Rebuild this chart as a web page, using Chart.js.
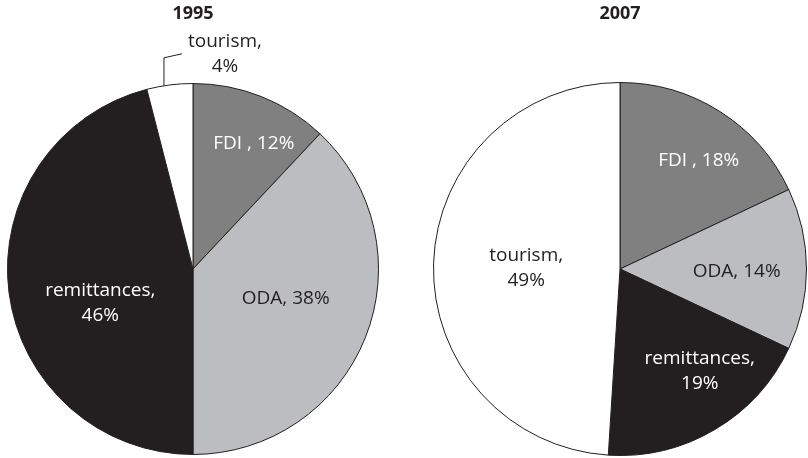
<!DOCTYPE html>
<html>
<head>
<meta charset="utf-8">
<script src="https://cdn.jsdelivr.net/npm/chart.js@4.4.0/dist/chart.umd.min.js"></script>
<style>
    html, body { margin: 0; padding: 0; background: #fff; }
    body { width: 808px; height: 458px; position: relative; overflow: hidden; }
    #pie-1995 { position: absolute; left: 0; top: 0; }
    #pie-2007 { position: absolute; left: 426px; top: 0; }
</style>
</head>
<body>
<canvas id="pie-1995" width="386" height="458"></canvas>
<canvas id="pie-2007" width="382" height="458"></canvas>
<script>
// data
const categories = ['FDI', 'ODA', 'remittances', 'tourism'];
const labelText = ['FDI , ', 'ODA, ', 'remittances,', 'tourism,'];
const values1995 = [12, 38, 46, 4];
const values2007 = [18, 14, 19, 49];
const years = ['1995', '2007'];

const sliceColors = ['#808080', '#bcbdc0', '#231f20', '#ffffff'];
const textColors = ['#ffffff', '#231f20', '#ffffff', '#231f20'];
const ink = '#231f20';
const fontFamily = '"Open Sans", "Noto Sans", sans-serif';

// where each label sits: fraction of radius, angle tweak in degrees, one or two lines
const place1995 = [
    { f: 0.753, da: 4.2, two: false },
    { f: 0.525, da: -3.7, two: false },
    { f: 0.532, da: -12.9, two: true },
    { leader: { da: -1.8, up: 28, dx: 18, dy: -4 }, tx: 43, ty: 0, two: true }
];
const place2007 = [
    { f: 0.72, da: 3.5, two: false },
    { f: 0.626, da: 1.5, two: false },
    { f: 0.693, da: -7.5, two: true },
    { f: 0.503, da: -1.2, two: true }
];

// draws the slice labels (and the leader line for tiny slices)
const sliceLabels = {
    id: 'sliceLabels',
    afterDatasetsDraw(chart, args, opts) {
        const ctx = chart.ctx;
        const meta = chart.getDatasetMeta(0);
        const vals = chart.data.datasets[0].data;
        ctx.save();
        ctx.font = '19px ' + fontFamily;
        ctx.textAlign = 'center';
        ctx.textBaseline = 'middle';
        meta.data.forEach((arc, i) => {
            const p = arc.getProps(['x', 'y', 'startAngle', 'endAngle', 'outerRadius'], true);
            const cfg = opts.places[i];
            let mid = (p.startAngle + p.endAngle) / 2;
            let tx, ty;
            if (cfg.leader) {
                const a = mid + cfg.leader.da * Math.PI / 180;
                const sx = p.x + Math.cos(a) * p.outerRadius;
                const sy = p.y + Math.sin(a) * p.outerRadius;
                const ex = sx + cfg.leader.dx;
                const ey = sy - cfg.leader.up + cfg.leader.dy;
                ctx.strokeStyle = ink;
                ctx.lineWidth = 1;
                ctx.beginPath();
                ctx.moveTo(sx, sy);
                ctx.lineTo(sx, sy - cfg.leader.up);
                ctx.lineTo(ex, ey);
                ctx.stroke();
                tx = ex + cfg.tx;
                ty = ey + cfg.ty;
                ctx.fillStyle = ink;
            } else {
                const a = mid + cfg.da * Math.PI / 180;
                tx = p.x + Math.cos(a) * p.outerRadius * cfg.f;
                ty = p.y + Math.sin(a) * p.outerRadius * cfg.f;
                ctx.fillStyle = textColors[i];
            }
            const pct = vals[i] + '%';
            if (cfg.two) {
                ctx.fillText(labelText[i], tx, ty - 12.5);
                ctx.fillText(pct, tx, ty + 12.5);
            } else {
                ctx.fillText(labelText[i] + pct, tx, ty);
            }
        });
        ctx.restore();
    }
};

function d2c_pieChart(id, year, values, places, titleBottom, pad) {
    const el = document.getElementById(id);
    new Chart(el, {
        type: 'pie',
        data: {
            labels: categories,
            datasets: [{
                data: values,
                backgroundColor: sliceColors,
                borderColor: ink,
                borderWidth: 1,
                hoverOffset: 0
            }]
        },
        options: {
            responsive: false,
            animation: false,
            events: [],
            layout: { padding: pad },
            plugins: {
                legend: { display: false },
                tooltip: { enabled: false },
                title: {
                    display: true,
                    text: year,
                    color: ink,
                    font: { family: fontFamily, size: 18, weight: 'bold' },
                    padding: { top: 3, bottom: titleBottom }
                },
                sliceLabels: { places: places }
            }
        },
        plugins: [sliceLabels]
    });
}

d2c_pieChart('pie-1995', years[0], values1995, place1995, 58.4, { left: 7, right: 7, top: 0, bottom: 3 });
d2c_pieChart('pie-2007', years[1], values2007, place2007, 57.4, { left: 7, right: 1, top: 0, bottom: 2 });
</script>
</body>
</html>
